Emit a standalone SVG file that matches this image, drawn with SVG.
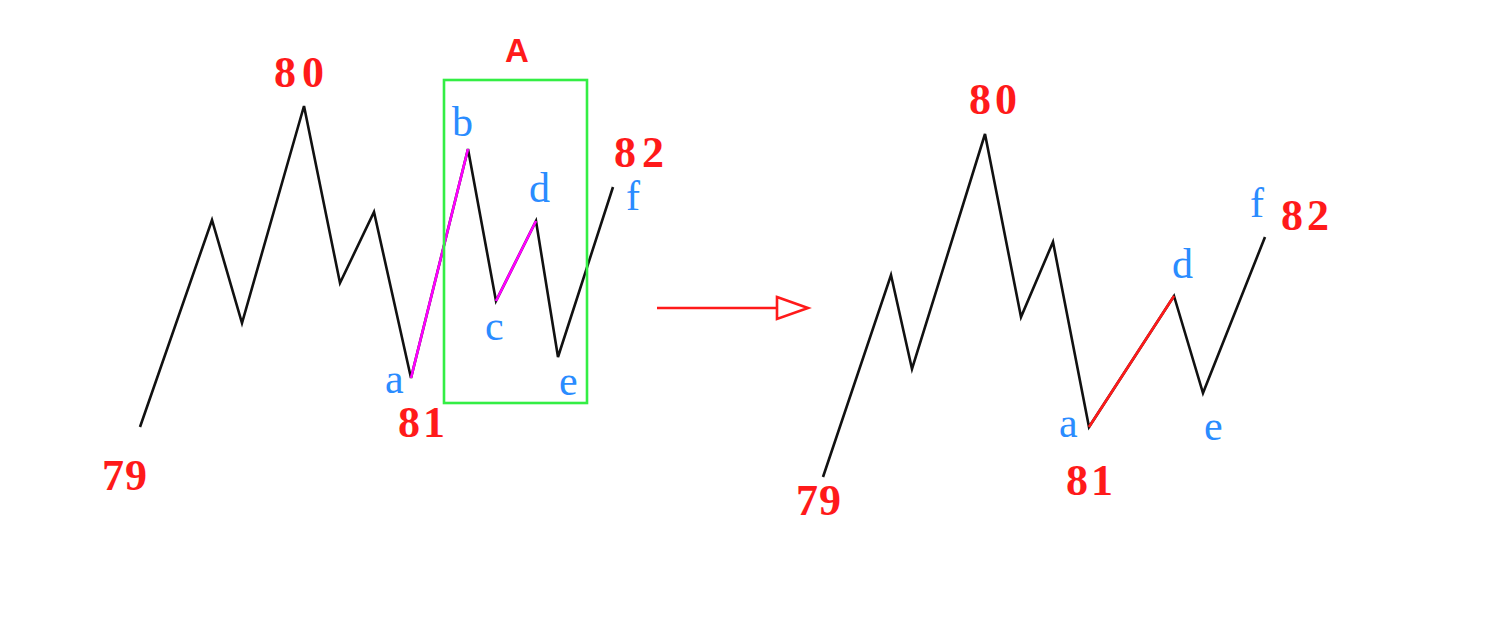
<svg xmlns="http://www.w3.org/2000/svg" width="1500" height="621" viewBox="0 0 1500 621">
<style>
.wave{fill:none;stroke:#111;stroke-width:2.6;stroke-linejoin:miter}
.hl{fill:none;stroke-width:2.6}
.num{font-family:"Liberation Serif",serif;font-weight:bold;font-size:44px;fill:#ff1a1a}
.let{font-family:"Liberation Serif",serif;font-size:42px;fill:#2a8cff}
.cap{font-family:"Liberation Sans",sans-serif;font-weight:bold;font-size:33px;fill:#ff1a1a}
</style>
<rect width="1500" height="621" fill="#ffffff"/>
<g id="connectors">
<polyline class="wave" points="140,427 212,220 242,323 304,106 340,283 374,212 411,378 468,149 496,301 536,221 558,357 613,187"/>
<line class="hl" stroke="#ff00ff" x1="411" y1="378" x2="468" y2="149"/>
<line class="hl" stroke="#ff00ff" x1="496" y1="301" x2="536" y2="221"/>
<polyline class="wave" points="823,477 891,275 912,369 985,134 1021,317 1053,242 1089,427 1174,296 1203,393 1265,237"/>
<line class="hl" stroke="#ff1a1a" x1="1089" y1="427" x2="1174" y2="296"/>
</g>
<g id="box-A">
<rect x="444" y="80" width="143" height="323" fill="none" stroke="#33ee44" stroke-width="2.6"/>
<text class="cap" x="517" y="62" text-anchor="middle">A</text>
</g>
<g id="arrow">
<line x1="657" y1="308" x2="777" y2="308" stroke="#ff1a1a" stroke-width="2.6"/>
<polygon points="777,297 808,308 777,319" fill="#ffffff" stroke="#ff1a1a" stroke-width="2.6"/>
</g>
<g id="left-labels">
<text class="num" x="102" y="490" letter-spacing="1">79</text>
<text class="num" x="274" y="87" letter-spacing="6">80</text>
<text class="num" x="398" y="437" letter-spacing="3">81</text>
<text class="num" x="614" y="167" letter-spacing="6">82</text>
<text class="let" x="385" y="393">a</text>
<text class="let" x="452" y="136">b</text>
<text class="let" x="485" y="340">c</text>
<text class="let" x="529" y="202">d</text>
<text class="let" x="559" y="395">e</text>
<text class="let" x="626" y="210">f</text>
</g>
<g id="right-labels">
<text class="num" x="796" y="515" letter-spacing="1">79</text>
<text class="num" x="969" y="114" letter-spacing="4">80</text>
<text class="num" x="1066" y="495" letter-spacing="3">81</text>
<text class="num" x="1281" y="230" letter-spacing="4">82</text>
<text class="let" x="1059" y="437">a</text>
<text class="let" x="1172" y="278">d</text>
<text class="let" x="1204" y="440">e</text>
<text class="let" x="1250" y="217">f</text>
</g>
</svg>
